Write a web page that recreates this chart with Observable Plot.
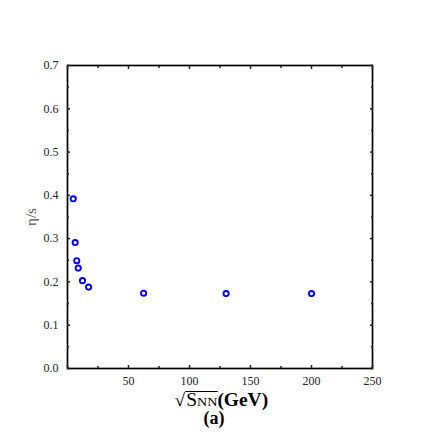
<!DOCTYPE html>
<html>
<head>
<meta charset="utf-8">
<script src="https://cdn.jsdelivr.net/npm/d3@7"></script>
<script src="https://cdn.jsdelivr.net/npm/@observablehq/plot@0.6"></script>
<style>
  html, body { margin: 0; padding: 0; background: #fff; }
  #wrap { position: relative; width: 436px; height: 436px; font-family: "Liberation Serif", "Times New Roman", Times, "DejaVu Serif", serif; }
  #chart svg, #chart svg text { font-family: "Liberation Serif", "Times New Roman", Times, "DejaVu Serif", serif !important; }
  #xlabel { position: absolute; left: 0; width: 436px; top: 391px; text-align: center; font-weight: bold; font-size: 18px; line-height: 18px; }
  #xlabel > span { display: inline-block; transform: scaleX(1.08); position: relative; left: 3px; }
  #panel { position: absolute; left: 0; width: 436px; top: 409px; text-align: center; font-weight: bold; font-size: 18px; line-height: 18px; }
  #panel > span { position: relative; left: -4px; }
  .rad { font-weight: normal; }
  .over { display: inline-block; border-top: 1px solid #000; line-height: 16px; font-weight: normal; padding-left: 1px; }
  .nn { font-size: 13px; }
</style>
</head>
<body>
<div id="wrap">
  <div id="chart"></div>
  <div id="xlabel"><span><span class="rad">√</span><span class="over">S<span class="nn">NN</span></span>(GeV)</span></div>
  <div id="panel"><span>(a)</span></div>
</div>
<script>
const energies = [4.7, 6.3, 7.6, 8.8, 12.3, 17.3, 62.4, 130, 200];
const etaOverS = [0.392, 0.291, 0.249, 0.232, 0.203, 0.188, 0.174, 0.173, 0.173];
const xTickLabels = [50, 100, 150, 200, 250];
const yTickLabels = [0.0, 0.1, 0.2, 0.3, 0.4, 0.5, 0.6, 0.7];

const data = energies.map((e, i) => ({x: e, y: etaOverS[i]}));
const xMinor = d3.range(25, 250, 50);
const yMinor = d3.range(0.05, 0.7, 0.1);
const xMajor = [0, ...xTickLabels];
const serif = "'Liberation Serif', 'Times New Roman', Times, 'DejaVu Serif', serif";

const chart = Plot.plot({
  width: 436,
  height: 436,
  marginLeft: 67,
  marginRight: 64,
  marginTop: 65,
  marginBottom: 68,
  style: {fontSize: "12px", color: "#222", fontFamily: serif},
  x: {domain: [0, 250]},
  y: {domain: [0, 0.7]},
  marks: [
    Plot.frame({stroke: "#000", strokeWidth: 1.7}),
    Plot.axisX({anchor: "bottom", ticks: xTickLabels, tickSize: 0, tickPadding: 8, label: null, fontSize: 12, fill: "#222", fontFamily: serif}),
    Plot.axisX({anchor: "bottom", ticks: xMajor, tickSize: -3, text: null, label: null, strokeWidth: 1.5}),
    Plot.axisX({anchor: "bottom", ticks: xMinor, tickSize: -2, text: null, label: null, strokeWidth: 1.5}),
    Plot.axisX({anchor: "top", ticks: xMajor, tickSize: -3, text: null, label: null, strokeWidth: 1.5}),
    Plot.axisX({anchor: "top", ticks: xMinor, tickSize: -2, text: null, label: null, strokeWidth: 1.5}),
    Plot.axisY({anchor: "left", ticks: yTickLabels, tickSize: 0, tickPadding: 9, tickFormat: d3.format(".1f"), label: null, fontSize: 12, fill: "#222", fontFamily: serif}),
    Plot.axisY({anchor: "left", ticks: yTickLabels, tickSize: -3, text: null, label: null, strokeWidth: 1.5}),
    Plot.axisY({anchor: "left", ticks: yMinor, tickSize: -2, text: null, label: null, strokeWidth: 1.5}),
    Plot.axisY({anchor: "right", ticks: yTickLabels, tickSize: -3, text: null, label: null, strokeWidth: 1.5}),
    Plot.axisY({anchor: "right", ticks: yMinor, tickSize: -2, text: null, label: null, strokeWidth: 1.5}),
    Plot.text(["η/s"], {frameAnchor: "left", dx: -36, rotate: -90, textAnchor: "middle", fill: "#555", fontSize: 15, fontFamily: serif}),
    Plot.dot(data, {x: "x", y: "y", r: 2.6, stroke: "#0000ff", strokeWidth: 1.9, fill: "none"})
  ]
});
document.getElementById("chart").appendChild(chart);
</script>
</body>
</html>
